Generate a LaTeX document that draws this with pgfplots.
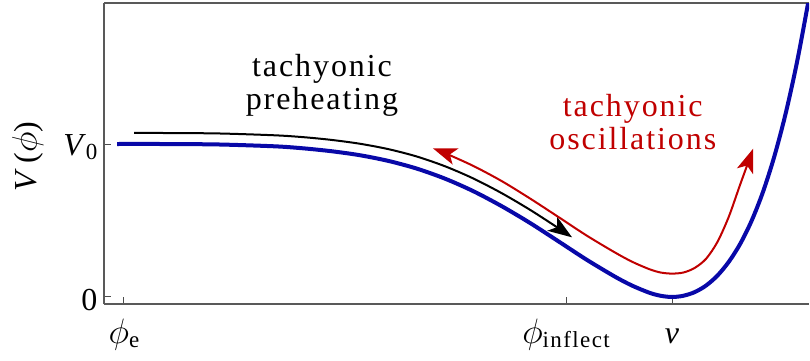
\documentclass[border=0pt]{standalone}
\usepackage{fontspec}
\setmainfont{Liberation Serif}
\newfontfamily\annot{Liberation Serif}[LetterSpace=6]
\usepackage{graphicx}
\usepackage{pgfplots}
\pgfplotsset{compat=1.18}
\usetikzlibrary{arrows.meta}

\definecolor{potblue}{RGB}{8,8,168}
\definecolor{oscred}{RGB}{192,0,0}
\newcommand{\bigsize}{\fontsize{32}{36}\selectfont}
\newcommand{\pathtip}{Stealth[length=24pt,width=17pt,inset=6pt]}
\newcommand{\bphi}{\mbox{\scalebox{1.7}{\fontsize{20.74}{24}\selectfont$\phi$}}}
\newcommand{\sub}[1]{\raisebox{-0.28ex}{\fontsize{23}{24}\selectfont\annot #1}}

\begin{document}
\begin{tikzpicture}
\useasboundingbox (-104pt,-56pt) rectangle (706pt,304pt);
\begin{axis}[
  scale only axis,
  width=705pt, height=301pt,
  xmin=0, xmax=1.2412,
  ymin=-0.0458, ymax=1.9216,
  axis x line*=box,
  axis y line*=left,
  tick pos=left,
  tick align=inside,
  major tick length=7pt,
  axis line style={draw=black!65, line width=1.4pt},
  tick style={draw=black!70, line width=1pt},
  xtick={0.0352,0.8134,1},
  xticklabels={{\bphi\sub{e}},{\bphi\sub{inflect}},{\textit{v}}},
  ytick={0,1},
  yticklabels={0,{\textit{V}\sub{0}}},
  ticklabel style={font=\bigsize},
  xticklabel style={anchor=base, yshift=-39pt},
  yticklabel style={yshift=-3pt, xshift=-3pt},
  ylabel={\textit{V}\,(\bphi)},
  ylabel style={font=\bigsize, at={(axis description cs:-0.108,0.49)}, anchor=center},
]
% potential
\addplot[potblue, line width=4pt, smooth] coordinates {
  (0.023,1.000) (0.10,1.000) (0.20,0.997) (0.30,0.985) (0.35,0.972)
  (0.40,0.953) (0.45,0.927) (0.50,0.890) (0.55,0.840) (0.60,0.774)
  (0.65,0.692) (0.70,0.594) (0.75,0.484) (0.80,0.364) (0.85,0.243)
  (0.90,0.132) (0.93,0.074) (0.96,0.028) (0.98,0.008) (1.00,0.000)
  (1.02,0.008) (1.04,0.032) (1.06,0.075) (1.08,0.140) (1.10,0.230)
  (1.12,0.347) (1.14,0.497) (1.16,0.685) (1.18,0.917) (1.20,1.198)
  (1.22,1.534) (1.24,1.930) (1.25,2.150)
};
% preheating path
\addplot[black, line width=2pt, smooth, -{\pathtip}] coordinates {
  (0.053,1.072) (0.10,1.072) (0.20,1.069) (0.30,1.057) (0.35,1.045)
  (0.40,1.027) (0.45,1.002) (0.50,0.967) (0.55,0.919) (0.60,0.855)
  (0.65,0.775) (0.70,0.679) (0.75,0.570) (0.80,0.450) (0.824,0.390)
};
% oscillation path
\addplot[oscred, line width=2pt, smooth, {\pathtip}-{\pathtip}] coordinates {
  (0.579,0.972) (0.60,0.941) (0.65,0.857) (0.70,0.758) (0.75,0.644)
  (0.80,0.523) (0.85,0.401) (0.90,0.290) (0.93,0.230) (0.96,0.182)
  (0.98,0.160) (1.00,0.153) (1.02,0.160) (1.04,0.190) (1.06,0.250)
  (1.08,0.360) (1.10,0.525) (1.12,0.735) (1.143,0.970)
};
\node[font=\annot\bigsize, anchor=base] at (axis cs:0.3838,1.439) {tachyonic};
\node[font=\annot\bigsize, anchor=base] at (axis cs:0.3838,1.224) {preheating};
\node[font=\annot\bigsize, text=oscred, anchor=base] at (axis cs:0.931,1.178) {tachyonic};
\node[font=\annot\bigsize, text=oscred, anchor=base] at (axis cs:0.931,0.963) {oscillations};
\end{axis}
\end{tikzpicture}
\end{document}
